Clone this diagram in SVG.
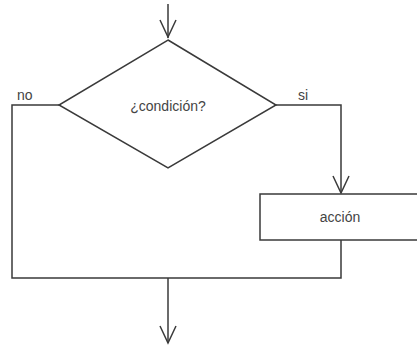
<svg xmlns="http://www.w3.org/2000/svg" width="417" height="347" viewBox="0 0 417 347">
<style>
.ln{fill:none;stroke:#3a3a3a;stroke-width:1.5}
.sh{fill:#fff;stroke:#3a3a3a;stroke-width:1.5}
.t{font-family:"Liberation Sans",Arial,sans-serif;font-size:14px;fill:#444}
</style>
<g id="connectors">
<line class="ln" x1="168" y1="4" x2="168" y2="38"/>
<path d="M160,20 L168,37 L176,20" class="ln"/>
<polyline class="ln" points="276,105 341,105 341,193"/>
<path d="M333,176 L341,193 L349,176" class="ln"/>
<polyline class="ln" points="59,105 12,105 12,278 341,278 341,240"/>
<line class="ln" x1="168" y1="278" x2="168" y2="343"/>
<path d="M160,326 L168,343 L176,326" class="ln"/>
</g>
<g id="decision">
<polygon class="sh" points="168,40 276,105 168,168 59,105"/>
<text class="t" x="168" y="111" text-anchor="middle">¿condición?</text>
</g>
<g id="action">
<rect class="sh" x="260" y="194" width="160" height="46"/>
<text class="t" x="340" y="222" text-anchor="middle">acción</text>
</g>
<g id="labels">
<text class="t" x="17" y="100">no</text>
<text class="t" x="298" y="100">si</text>
</g>
</svg>
